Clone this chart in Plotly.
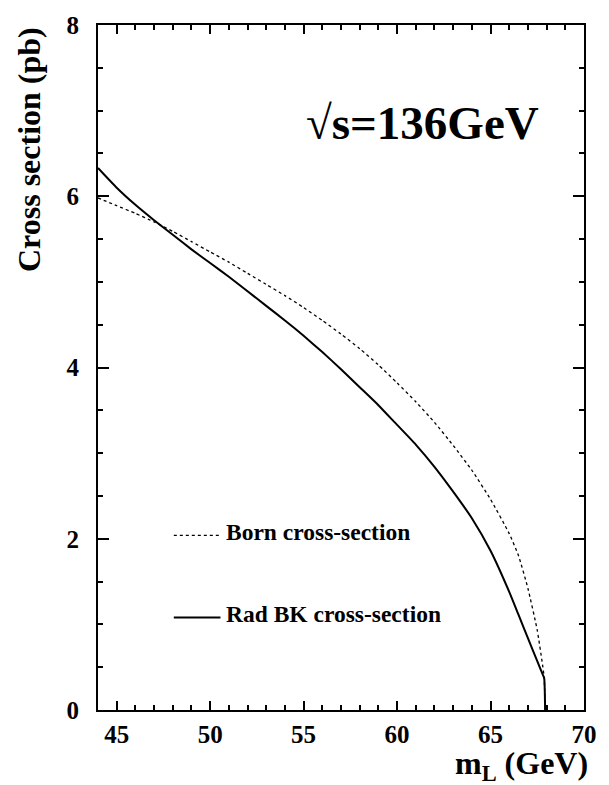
import plotly.graph_objects as go

# Slepton mass grid (GeV) and cross sections (pb) at sqrt(s) = 136 GeV
mass = [44, 45, 46, 47, 48, 49, 50, 51, 52, 53, 54, 55, 56, 57, 58, 59, 60,
        61, 62, 63, 64, 65, 66, 66.5, 67, 67.5, 67.8, 67.87, 67.92]

born_xsec = [5.98, 5.89, 5.80, 5.70, 5.59, 5.47, 5.35, 5.23, 5.10, 4.97, 4.84,
             4.70, 4.55, 4.39, 4.22, 4.03, 3.82, 3.60, 3.36, 3.09, 2.80, 2.46,
             2.06, 1.80, 1.42, 0.93, 0.50, 0.38, 0.0]

rad_bk_xsec = [6.33, 6.10, 5.90, 5.72, 5.55, 5.38, 5.22, 5.06, 4.89, 4.72, 4.55,
               4.37, 4.18, 3.98, 3.77, 3.56, 3.33, 3.10, 2.84, 2.55, 2.24, 1.86,
               1.38, 1.11, 0.84, 0.57, 0.41, 0.37, 0.0]

x_range = [44, 70]
y_range = [0, 8]

FONT = "Liberation Serif"

fig = go.Figure()

fig.add_trace(go.Scatter(
    x=mass, y=born_xsec, mode="lines",
    line=dict(color="black", width=1.3, dash="dot", shape="spline",
              smoothing=0.5),
    showlegend=False, hoverinfo="skip",
))
fig.add_trace(go.Scatter(
    x=mass, y=rad_bk_xsec, mode="lines",
    line=dict(color="black", width=2, shape="spline", smoothing=0.5),
    showlegend=False, hoverinfo="skip",
))

# hand-placed key: sample line + label
key_rows = [
    ("Born cross-section", "dot", 1.3, 0.255),
    ("Rad BK cross-section", "solid", 2, 0.135),
]
for label, dash, width, ypos in key_rows:
    fig.add_shape(type="line", xref="paper", yref="paper",
                  x0=0.156, x1=0.252, y0=ypos, y1=ypos,
                  line=dict(color="black", width=width, dash=dash))
    fig.add_annotation(xref="paper", yref="paper", x=0.26, y=ypos + 0.005,
                       text=label, showarrow=False, xanchor="left",
                       yanchor="middle",
                       font=dict(family=FONT, size=23.5, color="black",
                                 weight="bold"))

fig.add_annotation(xref="paper", yref="paper", x=0.668, y=0.857,
                   text="√s=136GeV", showarrow=False,
                   xanchor="center", yanchor="middle",
                   font=dict(family=FONT, size=47, color="black",
                             weight="bold"))

# axis titles
fig.add_annotation(xref="paper", yref="paper", x=-0.143, y=1.0,
                   text="Cross section (pb)", showarrow=False,
                   textangle=-90, xanchor="center", yanchor="top",
                   font=dict(family=FONT, size=32, color="black",
                             weight="bold"))
fig.add_annotation(xref="paper", yref="paper", x=1.012, y=-0.0815,
                   text="m<sub>L</sub> (GeV)", showarrow=False,
                   xanchor="right", yanchor="middle",
                   font=dict(family=FONT, size=32, color="black",
                             weight="bold"))

axis_common = dict(
    showline=True, linecolor="black", linewidth=2, mirror="allticks",
    ticks="inside", tickcolor="black", tickwidth=1.5,
    showgrid=False, zeroline=False,
    tickfont=dict(family=FONT, size=25, color="black", weight="bold"),
)

fig.update_xaxes(range=x_range, dtick=5, tick0=0, ticklen=9,
                 minor=dict(dtick=1, ticklen=5, ticks="inside",
                            tickcolor="black", tickwidth=1.5, showgrid=False),
                 ticklabelstandoff=1, **axis_common)
fig.update_yaxes(range=y_range, dtick=2, tick0=0, ticklen=11,
                 minor=dict(dtick=0.5, ticklen=5, ticks="inside",
                            tickcolor="black", tickwidth=1.5, showgrid=False),
                 ticklabelstandoff=12, **axis_common)

fig.update_layout(
    width=609, height=785,
    margin=dict(l=98, r=20, t=15, b=75),
    paper_bgcolor="white", plot_bgcolor="white",
    showlegend=False,
)

fig.write_html("out.html")
